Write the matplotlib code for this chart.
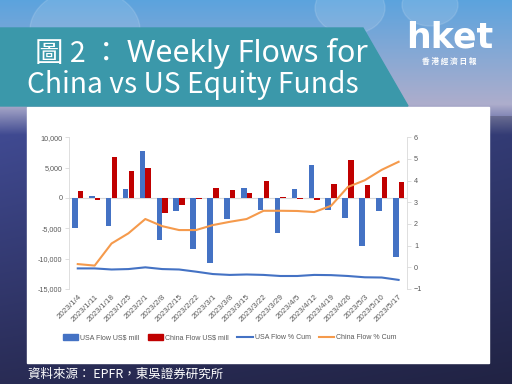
import numpy as np
import matplotlib
matplotlib.use('Agg')
import matplotlib.pyplot as plt
from matplotlib.patches import Polygon, Rectangle, Circle, Patch
from matplotlib.lines import Line2D
from matplotlib.ticker import FuncFormatter

plt.rcParams['font.family'] = ['Noto Sans CJK TC', 'DejaVu Sans']

# datos
fechas = ['2023/1/4', '2023/1/11', '2023/1/18', '2023/1/25', '2023/2/1', '2023/2/8',
          '2023/2/15', '2023/2/22', '2023/3/1', '2023/3/8', '2023/3/15', '2023/3/22',
          '2023/3/29', '2023/4/5', '2023/4/12', '2023/4/19', '2023/4/26', '2023/5/3',
          '2023/5/10', '2023/5/17']
usa_flow = [-5000, 330, -4600, 1500, 7800, -6900, -2100, -8450, -10650, -3400,
            1600, -1950, -5800, 1400, 5500, -1950, -3300, -7900, -2100, -9800]
china_flow = [1100, -400, 6700, 4500, 4900, -2400, -1200, -200, 1650, 1250,
              850, 2850, 150, -150, -400, 2300, 6200, 2200, 3500, 2700]
usa_cum = [-0.05, -0.05, -0.1, -0.08, 0.0, -0.08, -0.1, -0.2, -0.31, -0.35,
           -0.33, -0.35, -0.4, -0.4, -0.35, -0.36, -0.4, -0.46, -0.47, -0.58]
china_cum = [0.15, 0.08, 1.1, 1.57, 2.23, 1.9, 1.72, 1.72, 1.95, 2.1,
             2.23, 2.61, 2.61, 2.6, 2.55, 2.84, 3.71, 4.02, 4.5, 4.87]

titulo1a = '圖 2 ：'
titulo1b = 'Weekly Flows for'
titulo2 = 'China vs US Equity Funds'
fuente = '資料來源： EPFR，東吳證券研究所'

azul = '#4472c4'
rojo = '#c00000'
naranja = '#f59a4c'
gris = '#595959'

W, H = 512, 384
fig = plt.figure(figsize=(5.12, 3.84), dpi=100)

# fondo
bg = fig.add_axes([0, 0, 1, 1], zorder=0)
bg.set_axis_off()
yy, xx = np.mgrid[0:H, 0:W] / np.array([H, W])[:, None, None]
top = np.array([0.36, 0.64, 0.87])
mid = np.array([0.68, 0.68, 0.80])
low = np.array([0.25, 0.29, 0.57])
bot = np.array([0.16, 0.17, 0.33])
t1 = np.clip(yy / 0.27, 0, 1)[..., None]
t2 = np.clip((yy - 0.27) / 0.08, 0, 1)[..., None]
t3 = np.clip((yy - 0.35) / 0.65, 0, 1)[..., None]
img = top * (1 - t1) + mid * t1
img = img * (1 - t2) + low * t2
img = img * (1 - t3) + bot * t3
img = img * (1 - 0.2 * xx[..., None] * (yy[..., None] > 0.3))
bg.imshow(np.clip(img, 0, 1), extent=[0, 1, 0, 1], aspect='auto')
bg.set_xlim(0, 1)
bg.set_ylim(0, 1)
for cx, cy, r in [(85, 30, 55), (350, 8, 35), (430, 5, 28)]:
    bg.add_patch(Circle((cx / W, 1 - cy / H), r / W, color='white', alpha=0.12,
                        transform=bg.transAxes))

# panel blanco y banda del título
bg.add_patch(Rectangle((27 / W, 1 - 363 / H), 462 / W, 256 / H, color='white'))
bg.add_patch(Polygon([(0, 1 - 28 / H), (363 / W, 1 - 28 / H), (408 / W, 1 - 106 / H),
                      (0, 1 - 106 / H)], closed=True, color='#3b98aa'))

fig.text(35 / W, 1 - 62 / H, titulo1a, color='white', fontsize=20.5, va='baseline',
         weight='light')
fig.text(127 / W, 1 - 62 / H, titulo1b, color='white', fontsize=22, va='baseline',
         weight='light', family=['Noto Sans', 'DejaVu Sans'])
fig.text(27 / W, 1 - 93 / H, titulo2, color='white', fontsize=20.3, va='baseline',
         weight='light')
fig.text(0.879, 0.903, 'hket', color='white', fontsize=25, weight='bold',
         ha='center', va='center', family=['DejaVu Sans'])
fig.text(0.877, 0.839, '香 港 經 濟 日 報', color='white', fontsize=5.5, ha='center',
         va='center', weight='bold')
fig.text(0.055, 0.026, fuente, color='white', fontsize=9, va='center')

# gráfico
ax = fig.add_axes([0.1354, 0.2474, 0.6596, 0.395], zorder=2)
ax.patch.set_visible(False)
x = np.arange(len(fechas))
ax.bar(x - 0.17, usa_flow, 0.33, color=azul, zorder=2)
ax.bar(x + 0.17, china_flow, 0.33, color=rojo, zorder=2)
ax.axhline(0, color='#d9d9d9', lw=0.8, zorder=1)
ax.set_xlim(-0.5, len(fechas) - 0.5)
ax.set_ylim(-15000, 10000)
ax.set_yticks(range(-15000, 10001, 5000))
ax.yaxis.set_major_formatter(FuncFormatter(lambda v, p: f'{int(v):,}'))
ax.set_xticks(x)
ax.set_xticklabels(fechas, rotation=45, ha='right', rotation_mode='anchor')
ax.tick_params(axis='x', length=0, labelsize=5.8, labelcolor=gris, pad=3)
ax.tick_params(axis='y', length=3, width=0.6, color='#d9d9d9', labelsize=5.2,
               labelcolor=gris, pad=2)
for s in ['top', 'bottom', 'right']:
    ax.spines[s].set_visible(False)
ax.spines['left'].set_color('#d9d9d9')
ax.spines['left'].set_linewidth(0.6)
for lab in ax.get_xticklabels() + ax.get_yticklabels():
    lab.set_family(['Liberation Sans', 'DejaVu Sans'])

ax2 = ax.twinx()
ax2.plot(x, usa_cum, color=azul, lw=1.5)
ax2.plot(x, china_cum, color=naranja, lw=1.5)
ax2.set_ylim(-1, 6)
ax2.set_yticks(range(-1, 7))
ax2.tick_params(axis='y', length=3, width=0.6, color='#d9d9d9', labelsize=5.2,
                labelcolor=gris, pad=2)
for s in ['top', 'bottom', 'left']:
    ax2.spines[s].set_visible(False)
ax2.spines['right'].set_color('#d9d9d9')
ax2.spines['right'].set_linewidth(0.6)
for lab in ax2.get_yticklabels():
    lab.set_family(['Liberation Sans', 'DejaVu Sans'])

handles = [Patch(color=azul, label='USA Flow US$ mill'),
           Patch(color=rojo, label='China Flow US$ mill'),
           Line2D([], [], color=azul, lw=1.5, label='USA Flow % Cum'),
           Line2D([], [], color=naranja, lw=1.5, label='China Flow % Cum')]
leg = fig.legend(handles=handles, loc='center', bbox_to_anchor=(0.449, 0.12), ncol=4,
                 frameon=False, handlelength=2.2, handleheight=0.8,
                 columnspacing=1.2, handletextpad=0.3,
                 prop={'family': ['Liberation Sans', 'DejaVu Sans'], 'size': 5})
for t in leg.get_texts():
    t.set_color(gris)

fig.savefig('out.png', dpi=100)
